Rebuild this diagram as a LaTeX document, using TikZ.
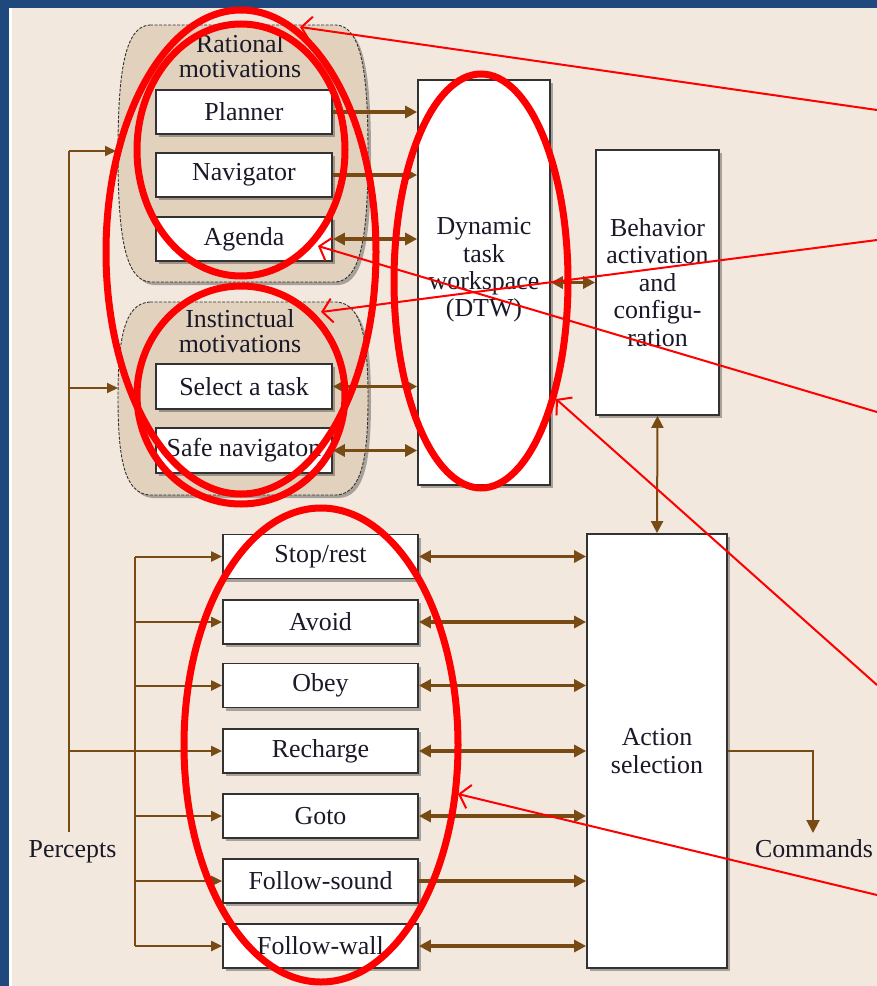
\documentclass[tikz,border=0pt]{standalone}
\usepackage{fontspec}
\setmainfont{Liberation Serif}
\usetikzlibrary{arrows.meta,shadows,calc}
\definecolor{bg}{RGB}{242,232,222}
\definecolor{slideblue}{RGB}{31,73,125}
\definecolor{tanfill}{RGB}{226,210,189}
\definecolor{brn}{RGB}{120,75,20}
\definecolor{edgegray}{RGB}{50,50,50}
\definecolor{ink}{RGB}{25,25,40}
\definecolor{annot}{RGB}{255,0,0}
\begin{document}
\begin{tikzpicture}[x=1bp,y=-1bp,
  txt/.style={font=\fontsize{26}{27.5}\selectfont, text=ink, inner sep=0pt, align=center},
  box/.style={txt, draw=edgegray, line width=1.7bp, fill=white,
    drop shadow={shadow xshift=3bp, shadow yshift=-3bp, fill=black, opacity=0.3}},
  mbox/.style={box, minimum width=176bp, minimum height=44bp},
  bbox/.style={box, minimum width=195bp, minimum height=44bp},
  container/.style={fill=tanfill, draw=edgegray, line width=0.9bp, dash pattern=on 3bp off 1.5bp,
    drop shadow={shadow xshift=3bp, shadow yshift=-3bp, fill=black, opacity=0.3}},
  thickarrow/.style={draw=brn, line width=3.4bp, {Triangle[length=12bp,width=12bp]}-{Triangle[length=12bp,width=12bp]}},
  thickone/.style={draw=brn, line width=3.4bp, -{Triangle[length=12bp,width=12bp]}},
  perc/.style={draw=brn, line width=2bp},
  percarrow/.style={perc, -{Triangle[length=11bp,width=10bp]}},
  ring/.style={draw=annot, line width=7bp},
  pointer/.style={draw=annot, line width=2bp, -{Straight Barb[length=10bp,width=24bp,line width=2bp]}}
]
\useasboundingbox (0,0) rectangle (877,986);
% slide background
\fill[bg] (0,0) rectangle (877,986);
\fill[slideblue] (0,0) rectangle (877,7.5);
\fill[slideblue] (0,0) rectangle (9,986);
\fill[white] (9,7.5) rectangle (11.5,986);

% containers
\path[container] (150,25) -- (336,25) .. controls (362,26) and (368,75) .. (368,153)
  .. controls (368,231) and (362,280) .. (336,282) -- (150,282)
  .. controls (124,280) and (118,231) .. (118,153) .. controls (118,75) and (124,26) .. (150,25) -- cycle;
\path[container] (150,302) -- (336,302) .. controls (362,303) and (368,340) .. (368,398)
  .. controls (368,457) and (362,494) .. (336,495) -- (150,495)
  .. controls (124,494) and (118,457) .. (118,398) .. controls (118,340) and (124,303) .. (150,302) -- cycle;
\node[txt, anchor=base] (rat1) at (240,52) {Rational};
\node[txt, anchor=base] (rat2) at (240,77) {motivations};
\node[txt, anchor=base] (ins1) at (240,327) {Instinctual};
\node[txt, anchor=base] (ins2) at (240,352) {motivations};

% motivation boxes
\node[mbox] (planner) at (244,112) {Planner};
\node[mbox] (navigator) at (244,175) {Navigator};
\node[mbox] (agenda) at (244,239) {Agenda};
\node[mbox, minimum height=45bp] (select) at (244,386.5) {Select a task};
\node[mbox, minimum height=45bp] (safe) at (244,450.5) {Safe navigaton};

% big boxes
\node[box, minimum width=132bp, minimum height=405bp] (dtw) at (484,282.5) {};
\node[txt] (dtwtext) at (484,270) {Dynamic\\task\\workspace\\(DTW)};
\node[box, minimum width=123bp, minimum height=265bp] (behav) at (657.5,282.5) {Behavior\\activation\\and\\configu-\\ration};
\node[box, minimum width=140bp, minimum height=434bp] (action) at (657,751) {Action\\selection};

% behaviors
\node[bbox] (stop) at (320.5,556.5) {Stop/rest};
\node[bbox] (avoid) at (320.5,622) {Avoid};
\node[bbox] (obey) at (320.5,685.5) {Obey};
\node[bbox] (recharge) at (320.5,751) {Recharge};
\node[bbox] (goto) at (320.5,816) {Goto};
\node[bbox] (fsound) at (320.5,881) {Follow-sound};
\node[bbox] (fwall) at (320.5,946) {Follow-wall};

\node[txt, anchor=base] (percepts) at (72.5,857) {Percepts};
\node[txt, anchor=base] (commands) at (814,857) {Commands};

% motivation -> DTW
\draw[thickone] (planner.east) -- (planner.east -| dtw.west);
\draw[thickone] (navigator.east) -- (navigator.east -| dtw.west);
\draw[thickarrow] (agenda.east) -- (agenda.east -| dtw.west);
\draw[thickarrow] (select.east) -- (select.east -| dtw.west);
\draw[thickarrow] (safe.east) -- (safe.east -| dtw.west);
\draw[thickarrow] (dtw.east |- behav.west) -- (behav.west);
\draw[thickarrow, line width=2bp] (behav.south) -- (action.north);

% behaviors -> action
\foreach \b in {stop,avoid,obey,recharge,goto,fwall}{
  \draw[thickarrow] (\b.east) -- (\b.east -| action.west);
}
\draw[thickone] (fsound.east) -- (fsound.east -| action.west);

% commands
\coordinate (cmdtip) at (813,833);
\draw[perc, -{Triangle[length=13bp,width=13bp]}] (action.east) -| (cmdtip);

% percepts
\coordinate (ptop) at (69,151);
\coordinate (pbot) at (69,832);
\coordinate (ratin) at (116,151);
\coordinate (insin) at (118,388);
\coordinate (qx) at (135,0);
\draw[perc] (ptop) -- (pbot);
\draw[percarrow] (ptop) -- (ratin);
\draw[percarrow] (ptop |- insin) -- (insin);
\draw[percarrow] (ptop |- recharge.west) -- (recharge.west);
\draw[perc] (qx |- stop.west) -- (qx |- fwall.west);
\foreach \b in {stop,avoid,obey,goto,fsound,fwall}{
  \draw[percarrow] (qx |- \b.west) -- (\b.west);
}

% red annotations
\draw[ring] (241,252) ellipse [x radius=135, y radius=242];
\draw[ring] (241,150) ellipse [x radius=104, y radius=126];
\draw[ring] (241,395) ellipse [x radius=104, y radius=109];
\draw[ring] (481,281) ellipse [x radius=87, y radius=207];
\draw[ring] (321,745) ellipse [x radius=137, y radius=237];

\coordinate (r1s) at (877,110); \coordinate (r1e) at (300,27);
\coordinate (r2s) at (877,240); \coordinate (r2e) at (321,312);
\coordinate (r3s) at (877,412); \coordinate (r3e) at (318,246);
\coordinate (r4s) at (877,685); \coordinate (r4e) at (556,399);
\coordinate (r5s) at (877,895); \coordinate (r5e) at (458,794);
\draw[pointer] (r1s) -- (r1e);
\draw[pointer] (r2s) -- (r2e);
\draw[pointer] (r3s) -- (r3e);
\draw[pointer] (r4s) -- (r4e);
\draw[pointer] (r5s) -- (r5e);
\end{tikzpicture}
\end{document}
